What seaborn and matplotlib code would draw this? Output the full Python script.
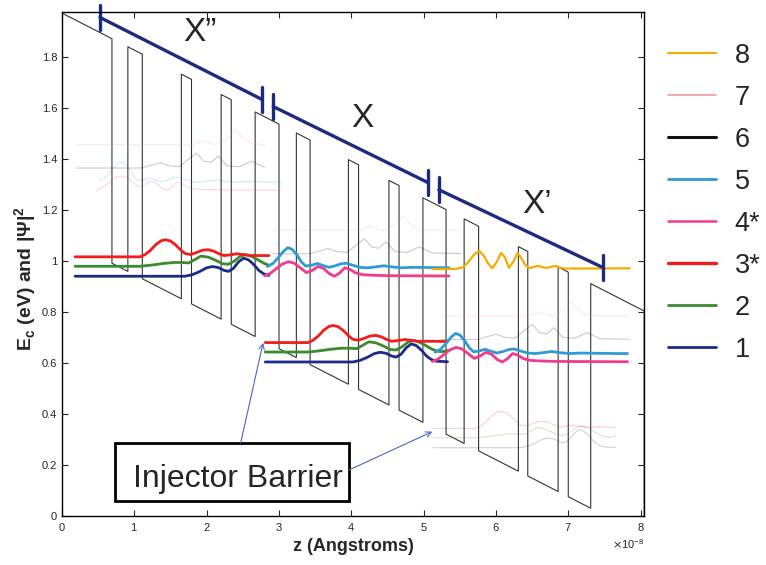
import numpy as np
import pandas as pd
import matplotlib
matplotlib.use("Agg")
import matplotlib.pyplot as plt
import seaborn as sns
from matplotlib.lines import Line2D
from matplotlib.patches import Rectangle
from matplotlib.ticker import ScalarFormatter, FuncFormatter

# z in units of 1e-8 m, energies in eV

# conduction band profile: barrier edges + tilt of the band
barrier_left = [0.00, 0.91, 1.65, 2.20, 2.67, 3.24, 3.96, 4.52, 4.99, 5.56, 6.31, 6.86, 7.31]
barrier_right = [0.69, 1.11, 1.79, 2.34, 3.00, 3.43, 4.10, 4.66, 5.31, 5.76, 6.44, 7.00, 8.05]
band_top_z0 = 1.97      # barrier top at z = 0
band_slope = 0.145      # eV drop per 1e-8 m
band_offset = 0.88      # barrier height

# one period shift (z, energy) between repeated stages
period_dz = 2.32
period_dE = 0.336

# |psi|^2 curves (offset by the level energy), one stage each
z1 = [0.18, 0.49, 1.70, 1.80, 1.90, 2.00, 2.08, 2.16, 2.24, 2.30, 2.37, 2.44, 2.51, 2.58, 2.65, 2.72, 2.79, 2.86, 3.01]
e1 = [0.939, 0.939, 0.939, 0.945, 0.957, 0.972, 0.977, 0.973, 0.962, 0.958, 0.970, 0.995, 1.010, 1.003, 0.985, 0.962, 0.948, 0.942, 0.940]

z2 = [0.18, 0.49, 1.08, 1.25, 1.40, 1.55, 1.65, 1.75, 1.83, 1.92, 2.02, 2.12, 2.22, 2.30, 2.38, 2.46, 2.53, 2.61, 2.70, 2.79, 2.86, 2.93, 3.01]
e2 = [0.978, 0.978, 0.978, 0.983, 0.989, 0.993, 0.993, 0.991, 1.003, 1.018, 1.014, 1.002, 0.988, 0.986, 0.998, 1.016, 1.024, 1.018, 1.005, 0.990, 0.982, 0.979, 0.984]

z3 = [0.18, 0.49, 1.08, 1.15, 1.22, 1.30, 1.37, 1.43, 1.50, 1.57, 1.64, 1.70, 1.78, 1.86, 1.94, 2.02, 2.10, 2.17, 2.24, 2.33, 2.42, 2.50, 2.60, 2.86, 3.01]
e3 = [1.015, 1.015, 1.015, 1.024, 1.040, 1.064, 1.078, 1.082, 1.077, 1.062, 1.042, 1.028, 1.024, 1.032, 1.041, 1.043, 1.037, 1.027, 1.020, 1.023, 1.027, 1.024, 1.020, 1.020, 1.019]

z4 = [2.80, 2.88, 2.96, 3.04, 3.13, 3.21, 3.29, 3.38, 3.46, 3.54, 3.62, 3.70, 3.77, 3.84, 3.91, 3.98, 4.06, 4.16, 4.30, 4.52, 5.35, 5.50]
e4 = [0.941, 0.950, 0.968, 0.986, 0.996, 0.990, 0.973, 0.953, 0.962, 0.977, 0.969, 0.948, 0.939, 0.952, 0.972, 0.966, 0.952, 0.945, 0.943, 0.941, 0.940, 0.940]

z5 = [2.84, 2.92, 2.99, 3.06, 3.12, 3.18, 3.25, 3.31, 3.37, 3.45, 3.53, 3.61, 3.69, 3.78, 3.86, 3.93, 4.02, 4.12, 4.22, 4.32, 4.45, 4.58, 4.70, 4.85, 5.35, 5.50]
e5 = [0.977, 0.990, 1.012, 1.036, 1.051, 1.045, 1.022, 0.995, 0.979, 0.982, 0.989, 0.981, 0.974, 0.980, 0.988, 0.990, 0.982, 0.974, 0.972, 0.975, 0.980, 0.975, 0.972, 0.974, 0.972, 0.972]

z6 = [0.20, 0.60, 1.10, 1.25, 1.36, 1.48, 1.62, 1.76, 1.86, 1.96, 2.06, 2.16, 2.28, 2.45, 2.62, 2.80, 3.20]
e6 = [1.363, 1.363, 1.363, 1.375, 1.384, 1.372, 1.368, 1.400, 1.422, 1.390, 1.385, 1.410, 1.372, 1.368, 1.390, 1.366, 1.364]

z7 = [0.20, 0.60, 1.80, 1.95, 2.10, 2.25, 2.40, 2.50, 2.60, 2.80, 3.20]
e7 = [1.455, 1.455, 1.455, 1.470, 1.455, 1.470, 1.510, 1.480, 1.460, 1.455, 1.455]

z8 = [5.12, 5.45, 5.55, 5.62, 5.70, 5.77, 5.83, 5.89, 5.95, 6.01, 6.07, 6.12, 6.18, 6.24, 6.30, 6.35, 6.40, 6.46, 6.52, 6.58, 6.64, 6.70, 6.77, 6.83, 6.90, 6.96, 7.85]
e8 = [0.967, 0.968, 0.975, 0.995, 1.025, 1.038, 1.020, 0.990, 0.970, 0.995, 1.030, 1.015, 0.972, 0.995, 1.030, 1.010, 0.985, 0.970, 0.975, 0.980, 0.975, 0.971, 0.977, 0.979, 0.972, 0.969, 0.970]

legend_labels = ["8", "7", "6", "5", "4*", "3*", "2", "1"]
colors = {"8": "#f2ad00", "7": "#f29a9a", "6": "#111111", "5": "#2f9bd6",
          "4*": "#f03a8c", "3*": "#f21c1c", "2": "#3b8a2e", "1": "#1c2a88"}
legend_lw = {"8": 1.5, "7": 1.2, "6": 2.2, "5": 2.0, "4*": 1.8, "3*": 2.4, "2": 2.0, "1": 2.0}

# (stage shift, z from, z to, bold?)
states = [
    ("6", z6, e6, [(0, 0.2, 2.8, False), (1, 0.6, 3.2, False), (2, 0.6, 3.2, False)]),
    ("7", z7, e7, [(0, 0.2, 2.8, False), (1, 0.6, 3.2, False), (2, 0.6, 3.2, False)]),
    ("1", z1, e1, [(0, 0.18, 2.86, True), (1, 0.49, 3.01, True), (2, 0.49, 3.01, False)]),
    ("2", z2, e2, [(0, 0.18, 2.86, True), (1, 0.49, 3.01, True), (2, 0.49, 3.01, False)]),
    ("3*", z3, e3, [(0, 0.18, 2.86, True), (1, 0.49, 3.01, True), (2, 0.49, 3.01, False)]),
    ("5", z5, e5, [(-1, 2.84, 5.35, False), (0, 2.84, 5.35, True), (1, 2.84, 5.50, True)]),
    ("4*", z4, e4, [(-1, 2.80, 5.35, False), (0, 2.80, 5.35, True), (1, 2.80, 5.50, True)]),
    ("8", z8, e8, [(0, 5.12, 7.85, True)]),
]

# build band profile points
pz, pe = [], []
for l, r in zip(barrier_left, barrier_right):
    tl = band_top_z0 - band_slope * l
    tr = band_top_z0 - band_slope * r
    if l > 0:
        pz += [l, l]
        pe += [tl - band_offset, tl]
    else:
        pz.append(l)
        pe.append(tl)
    pz += [r, r]
    pe += [tr, tr - band_offset]
band = pd.DataFrame({"z": np.array(pz) * 1e-8, "E": pe})

rows = []
for name, zs, es, copies in states:
    zs = np.asarray(zs)
    es = np.asarray(es)
    for k, lo, hi, bold in copies:
        keep = (zs >= lo - 1e-9) & (zs <= hi + 1e-9)
        for zz, ee in zip(zs[keep], es[keep]):
            rows.append({"state": name, "seg": f"{name}_{k}", "bold": bold,
                         "z": (zz + k * period_dz) * 1e-8, "E": ee - k * period_dE})
wf = pd.DataFrame(rows)

sns.set_style("ticks")
plt.rcParams["font.family"] = ["Liberation Sans", "DejaVu Sans"]

fig = plt.figure(figsize=(7.66, 5.65), dpi=100)
ax = fig.add_axes([0.081, 0.087, 0.760, 0.892])

sns.lineplot(data=band, x="z", y="E", sort=False, estimator=None,
             color="#333333", lw=0.8, ax=ax)

for seg, sub in wf.groupby("seg", sort=False):
    name = sub["state"].iloc[0]
    if sub["bold"].iloc[0]:
        sns.lineplot(data=sub, x="z", y="E", sort=False, estimator=None,
                     color=colors[name], lw=2.0 if name != "8" else 1.6, ax=ax)
    else:
        sns.lineplot(data=sub, x="z", y="E", sort=False, estimator=None,
                     color=colors[name], lw=0.8, alpha=0.22, ax=ax)

# stage markers X'', X, X'
navy = "#1c2a80"
stage_lines = [((0.526, 1.953), (2.77, 1.631)), ((2.92, 1.604), (5.06, 1.306)),
               ((5.21, 1.278), (7.48, 0.973))]
for (za, ea), (zb, eb) in stage_lines:
    ax.plot([za * 1e-8, zb * 1e-8], [ea, eb], color=navy, lw=2.4, clip_on=False)
    for zz, ee in ((za, ea), (zb, eb)):
        ax.plot([zz * 1e-8, zz * 1e-8], [ee - 0.05, ee + 0.05], color=navy, lw=2.4,
                clip_on=False)
ax.text(1.90e-8, 1.894, "X\u201d", fontsize=24, ha="center", va="center")
ax.text(4.155e-8, 1.557, "X", fontsize=24, ha="center", va="center")
ax.text(6.57e-8, 1.22, "X\u2019", fontsize=24, ha="center", va="center")

# injector barrier label
ax.add_patch(Rectangle((0.73e-8, 0.059), 3.24e-8, 0.227, fill=False, ec="black", lw=2))
ax.text(0.98e-8, 0.114, "Injector Barrier", fontsize=23, ha="left", va="baseline")
arrow_kw = dict(arrowstyle="->", color="#4a66c8", lw=0.8, shrinkA=0, shrinkB=0)
ax.annotate("", xy=(2.78e-8, 0.678), xytext=(2.47e-8, 0.286), arrowprops=arrow_kw)
ax.annotate("", xy=(5.12e-8, 0.33), xytext=(3.97e-8, 0.18), arrowprops=arrow_kw)

x_ticks = [0, 1, 2, 3, 4, 5, 6, 7, 8]
y_ticks = [0, 0.2, 0.4, 0.6, 0.8, 1.0, 1.2, 1.4, 1.6, 1.8]
ax.set_xlim(0, 8.05e-8)
ax.set_ylim(0, 1.975)
ax.set_xticks([t * 1e-8 for t in x_ticks])
ax.set_yticks(y_ticks)
fmt = ScalarFormatter(useMathText=True)
fmt.set_powerlimits((-3, 3))
ax.xaxis.set_major_formatter(fmt)
ax.yaxis.set_major_formatter(FuncFormatter(lambda v, p: f"{v:g}"))
ax.xaxis.get_offset_text().set_fontsize(8)
ax.tick_params(direction="in", top=True, right=True, length=4, labelsize=8, width=0.8)
for sp in ax.spines.values():
    sp.set_linewidth(1.0)
    sp.set_color("black")

ax.set_xlabel("z (Angstroms)", fontsize=13, fontweight="bold", labelpad=4)
ax.set_ylabel(r"E$_{\mathregular{c}}$ (eV) and |Ψ|$^{\mathregular{2}}$", fontsize=14,
              fontweight="bold")
ax.yaxis.set_label_coords(-0.04, 0.47)

handles = [Line2D([0], [0], color=colors[n], lw=legend_lw[n]) for n in legend_labels]
fig.legend(handles, legend_labels, loc="upper left", bbox_to_anchor=(0.872, 0.924),
           frameon=False, fontsize=19.5, handlelength=1.77, handletextpad=0.7,
           labelspacing=0.59, borderpad=0, borderaxespad=0)

fig.savefig("out.png", dpi=100)
